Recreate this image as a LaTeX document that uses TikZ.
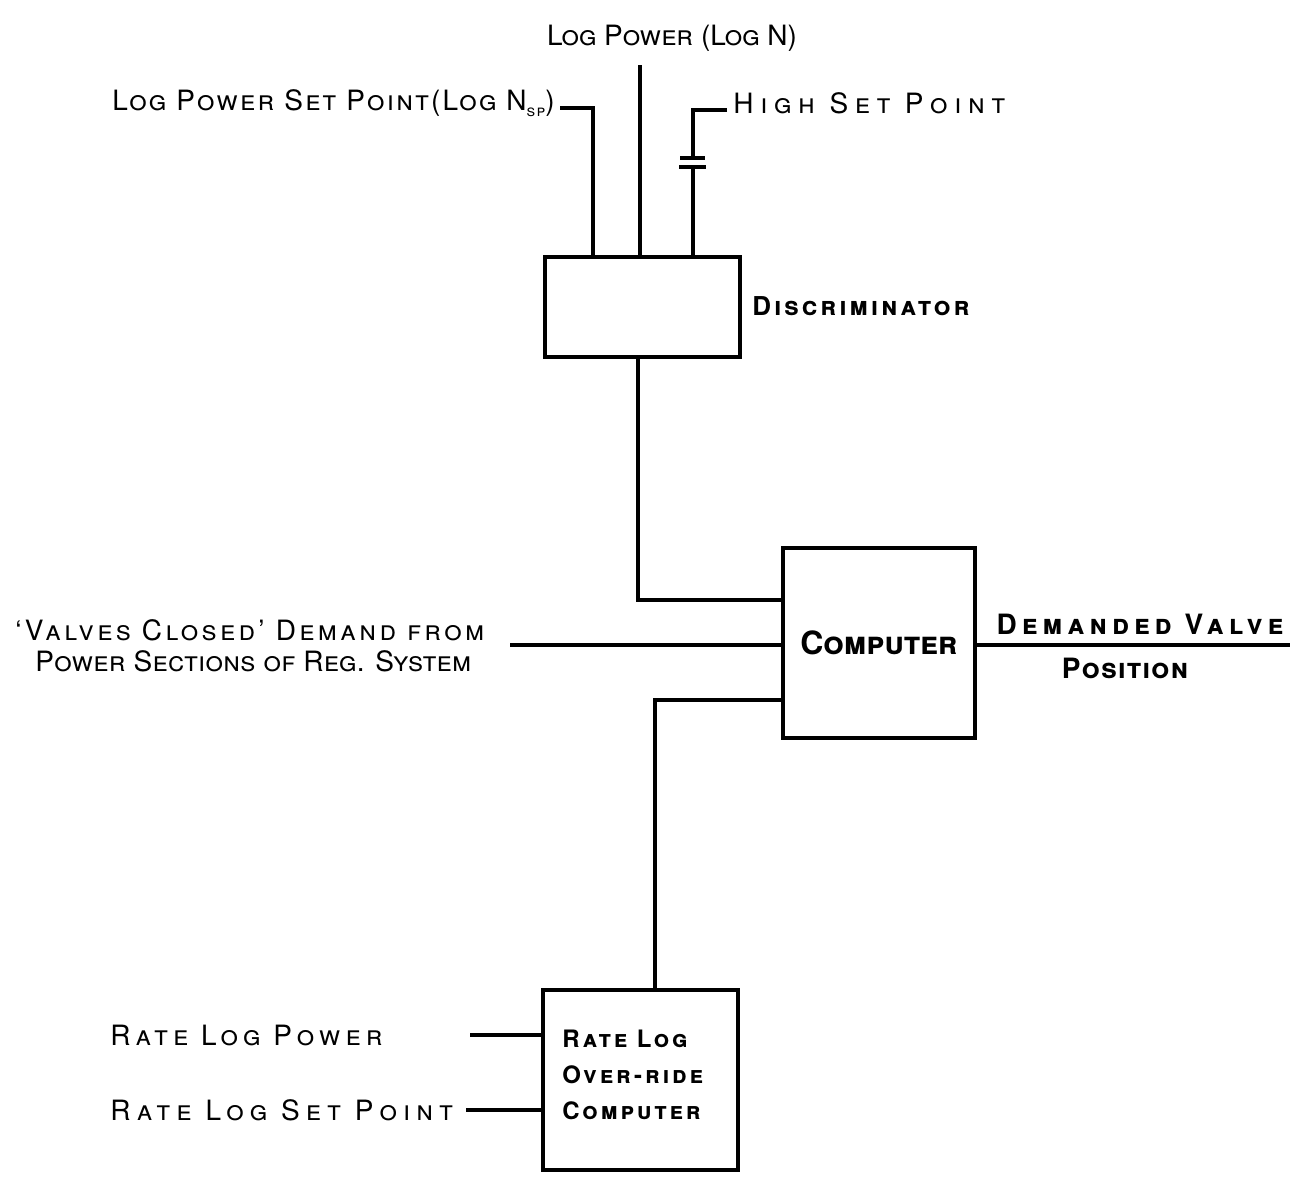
\documentclass[tikz,border=0pt]{standalone}
\usepackage{fontspec}
\setmainfont{TeX Gyre Heros}
\usetikzlibrary{calc}
\newcommand{\lsp}[1]{\addfontfeature{LetterSpace=#1}}
\begin{document}
\begin{tikzpicture}[x=0.5pt,y=-0.5pt,
  box/.style={draw, line width=1.6pt, inner sep=0pt},
  wire/.style={line width=1.6pt},
  lbl/.style={inner sep=0pt, font=\fontsize{14}{16}\selectfont\scshape},
  blbl/.style={inner sep=0pt, font=\fontsize{14}{16}\selectfont\bfseries\scshape, align=center}]
\useasboundingbox (0,0) rectangle (1303,1180);
% boxes
\node[box, minimum width=97.5pt, minimum height=50pt] (disc) at (642.5,307) {};
\node[box, minimum width=96pt, minimum height=95pt] (comp) at (879,643) {};
\node[box, minimum width=97.5pt, minimum height=90pt] (rate) at (640.5,1080) {};
% inner labels
\node[blbl, font=\fontsize{16}{18}\selectfont\bfseries\scshape] (comptxt) at (comp.center) {Computer};
\node[blbl, align=left, font=\fontsize{12}{18}\selectfont\bfseries\scshape\lsp{12}, anchor=west] (ratetxt) at (562,1075) {Rate Log\\Over-ride\\Computer};
\node[blbl, font=\fontsize{13}{15}\selectfont\bfseries\scshape\lsp{12}, anchor=west] (disctxt) at (752,306) {Discriminator};
% top labels
\node[lbl] (lptxt) at (672,38) {Log Power (Log N)};
\node[lbl, anchor=east, font=\fontsize{14}{16}\selectfont\scshape\lsp{8}] (lsptxt) at (555,103) {Log Power Set Point(Log N\raisebox{-0.4ex}{\fontsize{8}{9}\selectfont sp})};
\node[lbl, anchor=west, font=\fontsize{14}{16}\selectfont\scshape\lsp{24}] (hsptxt) at (733,103) {High Set Point};
% top wires
\coordinate (lp) at (640,65);
\draw[wire] (lp) -- (lp |- disc.north);
\coordinate (lspe) at (560,108);
\draw[wire] (lspe) -- (593,108) -- (593,257);
\coordinate (hspe) at (727,110);
\coordinate (capt) at (693,158);
\coordinate (capb) at (693,167);
\draw[wire] (hspe) -- (693,110) -- (capt);
\draw[wire] ($(capt)+(-13,0)$) -- ($(capt)+(12,0)$);
\draw[wire] ($(capb)+(-14,0)$) -- ($(capb)+(13,0)$);
\draw[wire] (capb) -- (capb |- disc.north);
% discriminator to computer
\draw[wire] (disc.south -| 638,0) -- (638,600) -- (comp.west |- 0,600);
% valves closed input
\node[lbl, anchor=west, font=\fontsize{14}{16}\selectfont\scshape\lsp{12}] (vctxt1) at (15,630) {`Valves Closed' Demand from};
\node[lbl, anchor=west, font=\fontsize{14}{16}\selectfont\scshape\lsp{1}] (vctxt2) at (35,661) {Power Sections of Reg. System};
\coordinate (vc) at (510,645);
\draw[wire] (vc) -- (comp.west |- vc);
% output
\coordinate (out) at (1290,645);
\draw[wire] (comp.east |- out) -- (out);
\node[lbl, font=\fontsize{14}{16}\selectfont\bfseries\scshape\lsp{18}] (dvtxt) at (1140,624) {Demanded Valve};
\node[lbl, font=\fontsize{14}{16}\selectfont\bfseries\scshape\lsp{5}] (postxt) at (1125,668) {Position};
% computer to rate
\draw[wire] (comp.west |- 0,700) -- (655,700) -- (655,990);
% rate inputs
\node[lbl, anchor=west, font=\fontsize{14}{16}\selectfont\scshape\lsp{18}] (rlptxt) at (110,1035) {Rate Log Power};
\node[lbl, anchor=west, font=\fontsize{14}{16}\selectfont\scshape\lsp{22}] (rlsptxt) at (110,1110) {Rate Log Set Point};
\coordinate (rlp) at (470,1035);
\coordinate (rlsp) at (466,1110);
\draw[wire] (rlp) -- (rate.west |- rlp);
\draw[wire] (rlsp) -- (rate.west |- rlsp);
\end{tikzpicture}
\end{document}
